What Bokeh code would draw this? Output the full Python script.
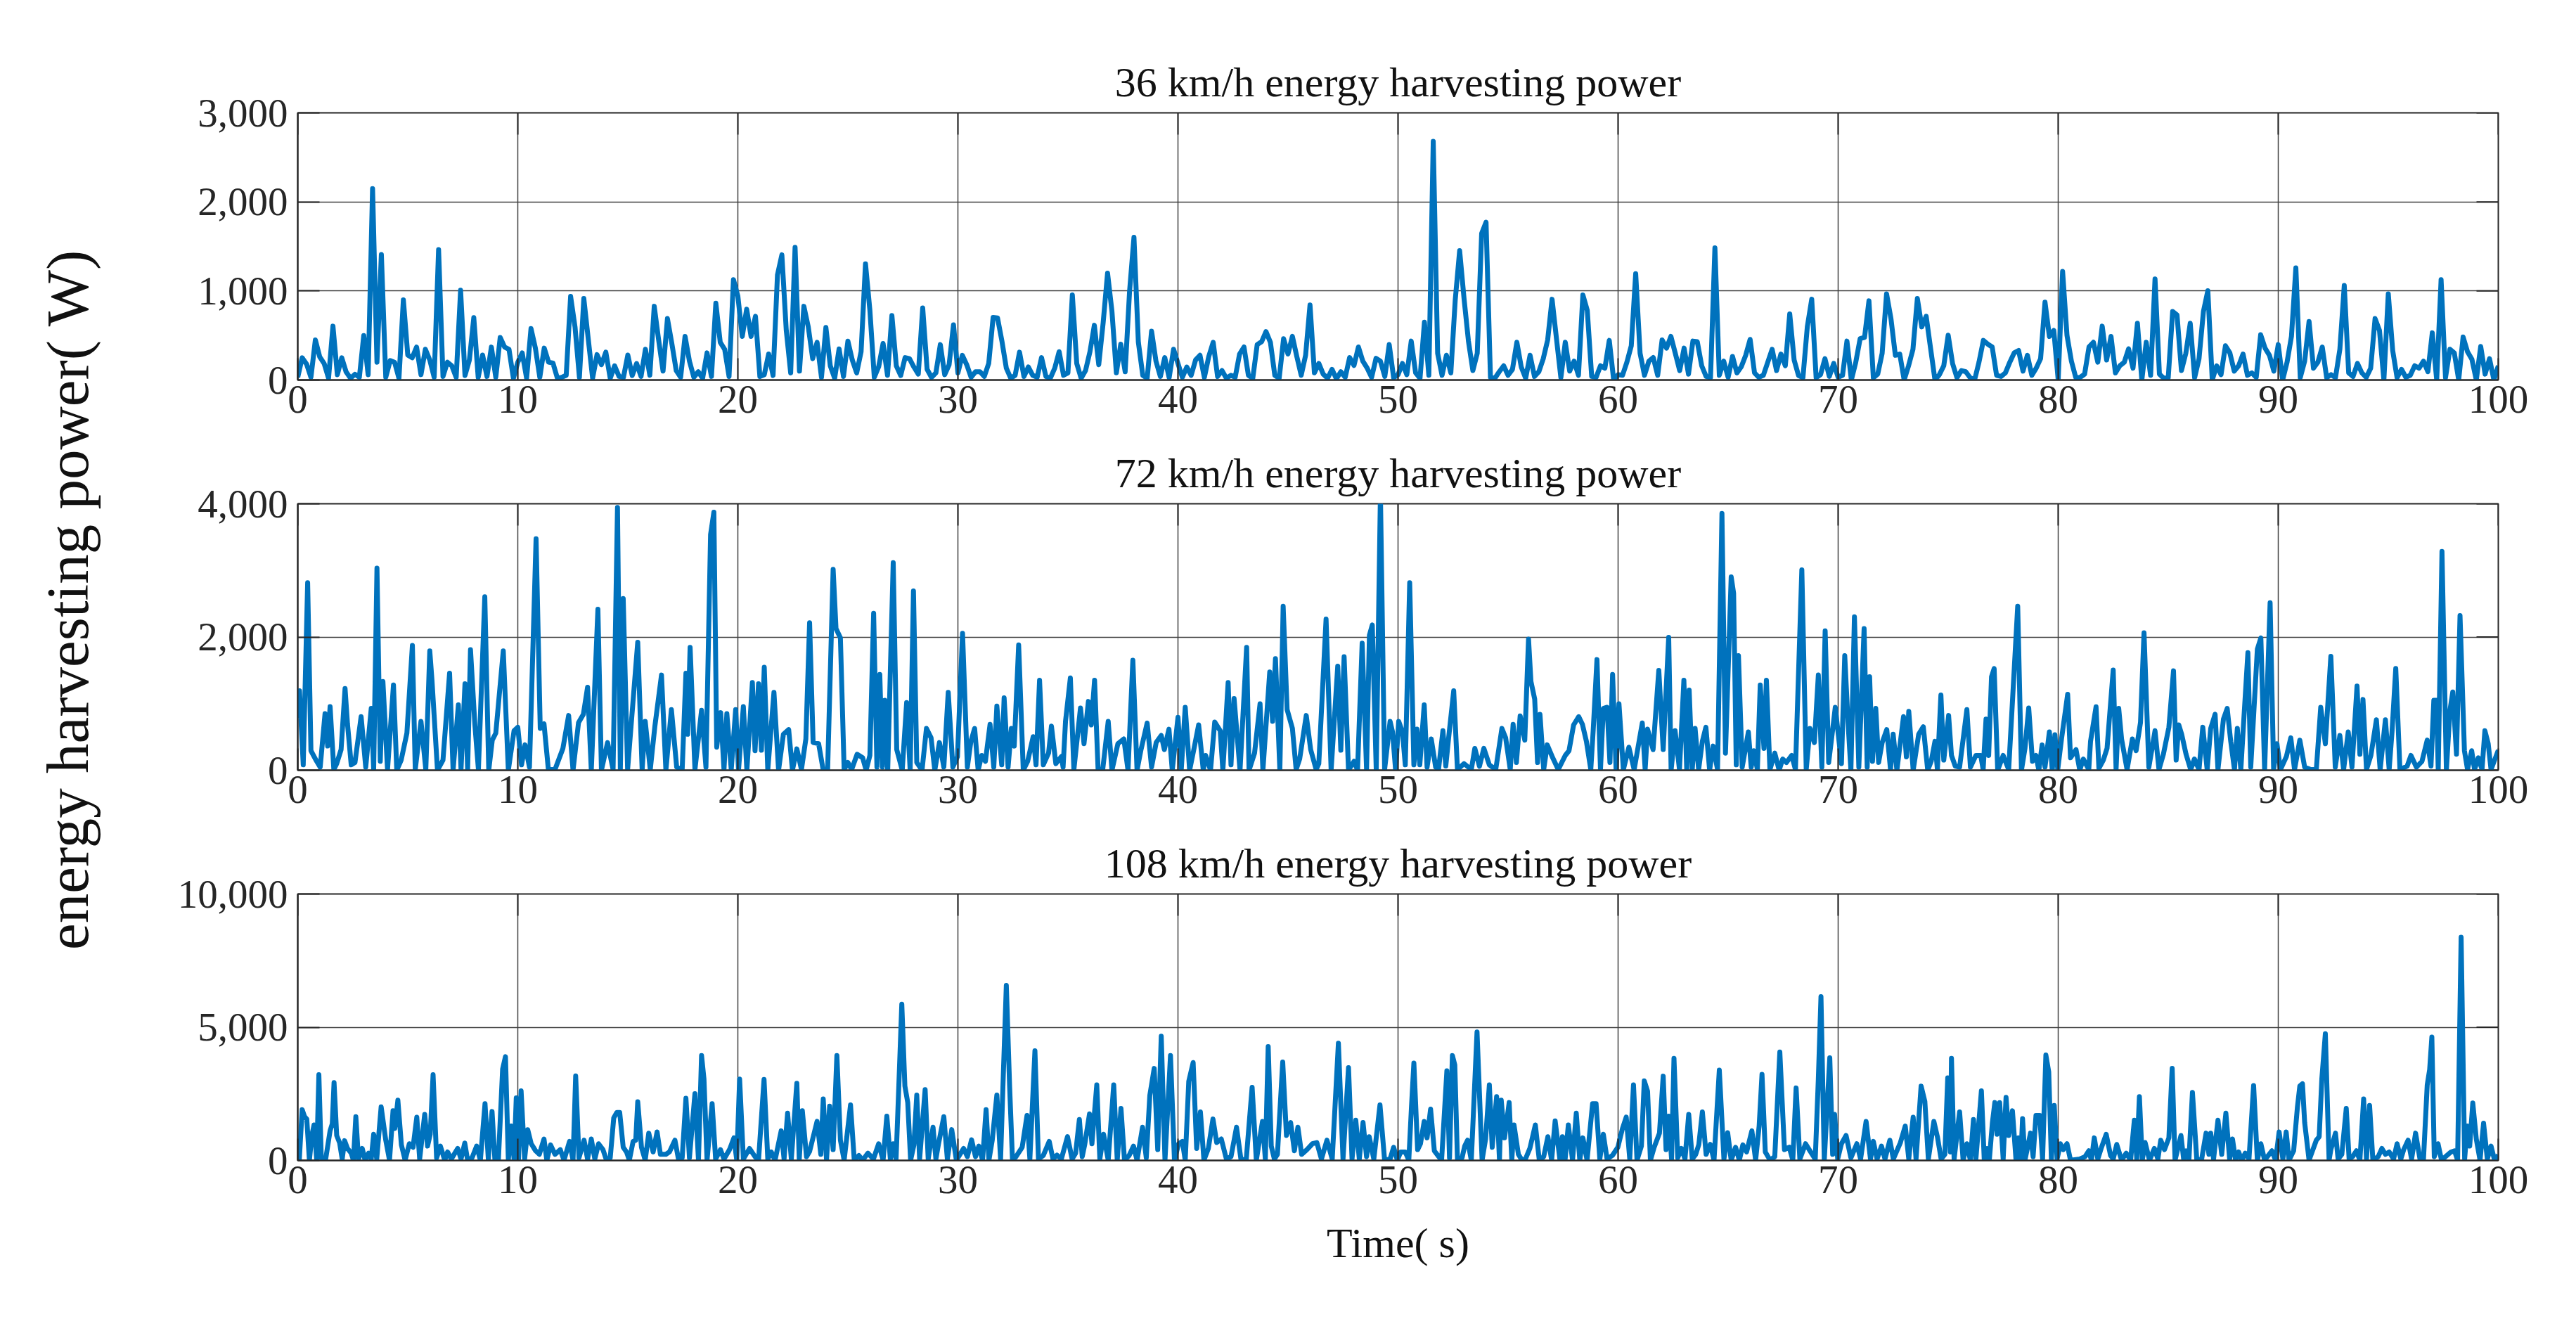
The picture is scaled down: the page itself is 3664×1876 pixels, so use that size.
import numpy as np
from bokeh.plotting import figure
from bokeh.layouts import row, column
from bokeh.models import Range1d, FixedTicker, NumeralTickFormatter, Label
from bokeh.embed import file_html
from bokeh.resources import INLINE

FONT = "Liberation Serif"
BLUE = "#0072BD"
AX = "#262626"

# ---------------- data ----------------
# 36 km/h : values every 0.2 s, 0 .. 100 s (W)
power_36 = [
    30, 250, 180, 30, 450,  260, 185, 20, 605, 60,  250, 90, 20, 65, 30,
    500, 60, 2150, 200, 1410,  30, 218, 200, 20, 900,  280, 250, 370, 60, 345,
    225, 30, 1465, 40, 200,  160, 30, 1008, 50, 225,  700, 30, 280, 40, 370,
    30, 478, 370, 345, 20,  200, 305, 20, 578, 358,  30, 358, 200, 190, 20,
    30, 53, 940, 597, 30,  915, 465, 20, 285, 172,  313, 20, 160, 40, 30,
    280, 50, 185, 40, 345,  53, 828, 450, 100, 690,  410, 106, 30, 490, 212,
    30, 93, 20, 305, 40,  862, 424, 345, 40, 1127,  942, 490, 795, 490, 716,
    40, 60, 292, 50, 1180,  1406, 557, 80, 1490, 100,  828, 597, 240, 424, 30,
    590, 160, 20, 350, 40,  437, 225, 80, 318, 1305,  782, 30, 150, 411, 53,
    724, 160, 50, 252, 240,  146, 66, 809, 120, 30,  80, 398, 60, 172, 620,
    80, 278, 172, 30, 93,  93, 40, 186, 703, 697,  437, 133, 20, 53, 313,
    40, 146, 53, 30, 252,  40, 20, 133, 318, 53,  80, 955, 186, 20, 106,
    318, 615, 172, 642, 1200,  770, 80, 403, 93, 995,  1602, 424, 53, 20, 549,
    212, 40, 252, 26, 345,  186, 30, 146, 53, 225,  278, 30, 265, 424, 40,
    106, 20, 53, 30, 292,  371, 53, 20, 398, 430,  544, 424, 53, 20, 464,
    292, 490, 265, 53, 278,  843, 80, 186, 66, 20,  120, 13, 93, 30, 252,
    164, 371, 212, 133, 30,  244, 212, 40, 398, 26,  60, 186, 60, 437, 80,
    20, 650, 53, 2680, 300,  53, 278, 80, 900, 1453,  915, 437, 106, 300, 1645,
    1772, 30, 20, 93, 160,  53, 120, 424, 146, 20,  278, 40, 93, 240, 450,
    907, 464, 26, 424, 100,  212, 53, 955, 782, 40,  30, 160, 133, 445, 0,
    60, 53, 200, 385, 1194,  300, 53, 212, 252, 53,  450, 358, 490, 300, 106,
    358, 66, 437, 430, 160,  40, 26, 1485, 53, 212,  30, 265, 80, 150, 278,
    456, 80, 30, 53, 199,  345, 106, 292, 160, 743,  225, 50, 26, 600, 907,
    26, 60, 240, 40, 186,  30, 53, 437, 0, 199,  464, 478, 889, 26, 66,
    300, 968, 690, 278, 292,  0, 160, 345, 915, 597,  716, 358, 0, 60, 160,
    504, 186, 26, 106, 93,  26, 0, 200, 445, 403,  371, 53, 40, 80, 200,
    305, 332, 100, 278, 53,  133, 240, 875, 490, 557,  0, 1220, 500, 212, 26,
    30, 66, 371, 424, 200,  605, 225, 490, 80, 160,  199, 350, 133, 637, 0,
    424, 53, 1135, 66, 20,  26, 770, 730, 106, 300,  637, 26, 240, 770, 1003,
    0, 160, 60, 385, 305,  100, 160, 292, 53, 80,  30, 509, 358, 278, 100,
    398, 0, 200, 490, 1260,  26, 212, 658, 133, 200,  371, 26, 60, 26, 345,
    1061, 80, 40, 186, 80,  30, 133, 690, 557, 0,  968, 332, 26, 120, 30,
    53, 160, 133, 212, 93,  530, 0, 1127, 26, 345,  305, 0, 483, 318, 233,
    0, 377, 66, 240, 0,  160,
]
time_36 = [round(0.2 * i, 1) for i in range(len(power_36))]

# 72 km/h : (time s, power W) readings
pts_72 = [
    (0.0, 787), (0.08, 1192), (0.25, 81), (0.45, 2815), (0.6, 293), (0.86, 134), (1.02, 46), (1.24, 850),
    (1.36, 363), (1.47, 956), (1.64, 10), (1.77, 99), (1.97, 310), (2.15, 1228), (2.26, 698), (2.43, 81),
    (2.6, 116), (2.88, 804), (3.09, 46), (3.34, 928), (3.45, 10), (3.6, 3033), (3.75, 134), (3.87, 1333),
    (4.08, 10), (4.35, 1280), (4.5, 0), (4.7, 152), (4.96, 557), (5.21, 1873), (5.34, 10), (5.6, 734),
    (5.82, 10), (6.0, 1792), (6.1, 1351), (6.35, 0), (6.6, 152), (6.9, 1457), (7.06, 0), (7.3, 981),
    (7.42, 10), (7.6, 1298), (7.72, 10), (7.85, 1810), (8.05, 681), (8.21, 10), (8.5, 2603), (8.68, 0),
    (8.84, 452), (9.0, 557), (9.34, 1792), (9.57, 0), (9.83, 593), (10.0, 645), (10.17, 81), (10.33, 381),
    (10.53, 46), (10.83, 3474), (11.02, 628), (11.19, 698), (11.39, 10), (11.69, 10), (12.05, 328),
    (12.31, 822), (12.51, 0), (12.76, 716), (12.98, 840), (13.17, 1245), (13.34, 0), (13.64, 2416),
    (13.8, 0), (14.08, 416), (14.33, 10), (14.53, 3944), (14.66, 10), (14.79, 2579), (14.99, 10),
    (15.45, 1922), (15.65, 0), (15.79, 734), (16.02, 10), (16.23, 663), (16.53, 1429), (16.73, 0),
    (16.98, 910), (17.22, 46), (17.47, 10), (17.64, 1457), (17.72, 540), (17.83, 1845), (18.05, 10),
    (18.35, 899), (18.55, 46), (18.76, 3538), (18.91, 3873), (19.04, 346), (19.22, 864), (19.37, 10),
    (19.5, 850), (19.7, 10), (19.9, 910), (20.03, 0), (20.25, 956), (20.41, 0), (20.66, 1316),
    (20.78, 293), (20.94, 1298), (21.07, 300), (21.2, 1545), (21.36, 0), (21.64, 1168), (21.85, 0),
    (22.07, 540), (22.31, 610), (22.48, 0), (22.68, 321), (22.89, 10), (23.09, 469), (23.26, 2215),
    (23.42, 416), (23.67, 399), (23.88, 0), (24.08, 10), (24.33, 3016), (24.46, 2127), (24.66, 1986),
    (24.83, 10), (25.0, 116),
    (25.17, 10), (25.42, 240), (25.67, 187), (25.83, 0), (26.0, 222), (26.17, 2356), (26.32, 46),
    (26.45, 1439), (26.57, 46), (26.68, 1051), (26.81, 0), (27.06, 3115), (27.22, 310), (27.47, 0),
    (27.67, 1016), (27.83, 0), (27.98, 2691), (28.13, 116), (28.37, 0), (28.57, 628), (28.78, 487),
    (28.95, 0), (29.16, 416), (29.36, 46), (29.56, 1168), (29.77, 46), (29.98, 205), (30.21, 2056),
    (30.43, 46), (30.59, 434), (30.76, 628), (30.92, 0), (31.08, 222), (31.25, 134), (31.46, 688),
    (31.63, 46), (31.77, 963), (31.99, 81), (32.1, 1086), (32.28, 46), (32.43, 628), (32.56, 363),
    (32.76, 1880), (32.97, 0), (33.17, 134), (33.42, 504), (33.55, 81), (33.71, 1351), (33.88, 81),
    (34.12, 257), (34.25, 663), (34.45, 99), (34.7, 205), (34.78, 46), (34.89, 734), (35.11, 1386),
    (35.27, 10), (35.57, 935), (35.73, 399), (35.93, 1033), (36.06, 681), (36.21, 1351), (36.37, 10),
    (36.58, 10), (36.83, 734), (37.0, 0), (37.27, 399), (37.54, 469), (37.73, 0), (37.95, 1651),
    (38.14, 0), (38.31, 293), (38.6, 709), (38.8, 46), (39.01, 416), (39.24, 522), (39.38, 310),
    (39.59, 617), (39.74, 0), (40.0, 794), (40.15, 10), (40.33, 945), (40.53, 0), (40.72, 310),
    (40.94, 681), (41.15, 0), (41.26, 222), (41.48, 0), (41.67, 723), (41.92, 593), (42.04, 0),
    (42.28, 1316), (42.41, 81), (42.55, 1076), (42.82, 0), (43.12, 1845), (43.23, 0), (43.48, 257),
    (43.73, 998), (43.86, 0), (44.17, 1474), (44.3, 734), (44.43, 1675), (44.63, 0), (44.78, 2462),
    (44.96, 910), (45.2, 628), (45.37, 10), (45.53, 169), (45.83, 822), (46.03, 310), (46.28, 10),
    (46.4, 99), (46.73, 2268), (46.96, 0), (47.26, 1563), (47.4, 300), (47.55, 1704), (47.75, 0),
    (48.0, 134), (48.16, 0), (48.37, 1908), (48.57, 10), (48.7, 2028), (48.83, 2180), (49.01, 0),
    (49.2, 4150), (49.39, 10), (49.64, 734), (49.75, 575), (49.89, 0),
    (50.03, 734), (50.2, 575), (50.33, 81), (50.53, 2815), (50.72, 81), (50.86, 617), (50.99, 81),
    (51.19, 981), (51.32, 46), (51.51, 469), (51.71, 46), (51.84, 10), (52.04, 593), (52.17, 63),
    (52.3, 487), (52.53, 1192), (52.7, 10), (53.0, 99), (53.33, 10), (53.49, 328), (53.7, 60),
    (53.9, 328), (54.15, 81), (54.44, 10), (54.72, 628), (54.89, 487), (55.1, 10), (55.23, 688),
    (55.38, 116), (55.55, 815), (55.76, 452), (55.93, 1968), (56.04, 1333), (56.21, 1069), (56.34, 116),
    (56.45, 840), (56.62, 10), (56.78, 381), (57.03, 187), (57.28, 10), (57.6, 222), (57.77, 293),
    (57.98, 681), (58.21, 804), (58.38, 688), (58.56, 434), (58.76, 10), (58.87, 603), (59.04, 1661),
    (59.2, 10), (59.33, 928), (59.5, 945), (59.63, 116), (59.75, 1439), (59.91, 10), (60.04, 998),
    (60.24, 10), (60.49, 346), (60.73, 10), (61.1, 709), (61.23, 10), (61.34, 617), (61.59, 310),
    (61.85, 1499), (62.05, 310), (62.3, 1996), (62.41, 0), (62.59, 593), (62.79, 10), (62.99, 1351),
    (63.12, 0), (63.23, 1203), (63.37, 10), (63.5, 628), (63.66, 10), (63.83, 434), (63.99, 645),
    (64.16, 0), (64.32, 363), (64.52, 10), (64.72, 3855), (64.88, 257), (65.14, 2903), (65.25, 2656),
    (65.37, 81), (65.47, 1721), (65.64, 46), (65.92, 575), (66.05, 46), (66.17, 293), (66.33, 10),
    (66.46, 1280), (66.63, 328), (66.74, 1351), (66.9, 10), (67.12, 257), (67.32, 0), (67.48, 169),
    (67.65, 116), (67.89, 222), (68.06, 10), (68.35, 3009), (68.55, 10), (68.72, 628), (68.92, 416),
    (69.1, 1429), (69.26, 46), (69.41, 2092), (69.57, 116), (69.7, 469), (69.87, 945), (70.03, 469),
    (70.15, 99), (70.3, 1721), (70.45, 716), (70.58, 0), (70.74, 2303), (70.94, 46), (71.18, 2127),
    (71.32, 46), (71.43, 1404), (71.56, 134), (71.71, 928), (71.84, 116), (72.0, 416), (72.21, 610),
    (72.38, 10), (72.5, 540), (72.67, 0), (72.97, 804), (73.1, 200), (73.21, 885), (73.41, 0),
    (73.66, 540), (73.87, 653), (74.07, 0), (74.23, 134), (74.4, 434), (74.51, 10), (74.67, 1129),
    (74.8, 152),
    (75.02, 822), (75.15, 222), (75.32, 63), (75.52, 46), (75.85, 910), (76.01, 46), (76.26, 222),
    (76.48, 222), (76.59, 10), (76.72, 769), (76.84, 222), (76.97, 1404), (77.09, 1527), (77.25, 0),
    (77.5, 222), (77.75, 10), (78.16, 2462), (78.33, 0), (78.49, 328), (78.66, 935), (78.83, 134),
    (78.99, 222), (79.12, 0), (79.27, 381), (79.4, 46), (79.6, 575), (79.73, 0), (79.85, 533),
    (79.98, 10), (80.15, 469), (80.43, 1139), (80.56, 187), (80.81, 310), (80.98, 0), (81.14, 169),
    (81.39, 10), (81.47, 434), (81.72, 952), (81.85, 28), (82.05, 152), (82.22, 328), (82.5, 1503),
    (82.63, 10), (82.75, 928), (82.88, 469), (83.13, 10), (83.37, 469), (83.54, 293), (83.74, 716),
    (83.9, 2063), (84.12, 46), (84.4, 593), (84.58, 10), (84.78, 240), (85.03, 645), (85.24, 1492),
    (85.36, 152), (85.48, 681), (85.61, 540), (85.81, 240), (86.02, 10), (86.19, 169), (86.4, 10),
    (86.57, 645), (86.77, 10), (86.93, 628), (87.13, 840), (87.26, 10), (87.51, 769), (87.68, 928),
    (87.84, 434), (88.01, 10), (88.14, 628), (88.3, 10), (88.42, 681), (88.62, 1764), (88.75, 46),
    (89.05, 1817), (89.21, 1986), (89.38, 10), (89.63, 2515), (89.79, 10), (89.94, 399), (90.1, 10),
    (90.37, 205), (90.57, 487), (90.74, 10), (90.98, 452), (91.2, 46), (91.48, 10), (91.73, 10),
    (91.93, 945), (92.14, 399), (92.39, 1711), (92.59, 46), (92.8, 522), (92.97, 10), (93.18, 575),
    (93.35, 46), (93.58, 1263), (93.71, 240), (93.85, 1062), (94.01, 10), (94.21, 222), (94.46, 758),
    (94.63, 10), (94.87, 758), (95.04, 10), (95.17, 575), (95.34, 1527), (95.53, 10), (95.86, 63),
    (96.03, 222), (96.28, 46), (96.53, 134), (96.77, 452), (96.94, 63), (97.07, 1051), (97.19, 1051),
    (97.27, 10), (97.44, 3284), (97.64, 0), (97.8, 892), (97.93, 1175), (98.1, 240), (98.26, 2321),
    (98.46, 293), (98.6, 10), (98.79, 293), (98.92, 10), (99.09, 187), (99.26, 10), (99.39, 593),
    (99.54, 399), (99.67, 10), (99.83, 152), (100.0, 300),
]
time_72 = [a for a, _ in pts_72]
power_72 = [b for _, b in pts_72]

# 108 km/h : (time s, power W) readings
pts_108 = [
    (0.0, 141), (0.07, 9), (0.2, 1908), (0.31, 1643), (0.41, 1555), (0.53, 9), (0.64, 936), (0.74, 1334),
    (0.86, 53), (0.96, 3216), (1.07, 97), (1.27, 53), (1.47, 1113), (1.57, 1378), (1.65, 2924), (1.77, 936),
    (1.9, 671), (2.02, 53), (2.13, 742), (2.26, 450), (2.43, 274), (2.53, 9), (2.64, 1643), (2.76, 53),
    (2.93, 450), (3.06, 9), (3.22, 274), (3.34, 53), (3.45, 981), (3.59, 53), (3.79, 2014), (4.0, 760),
    (4.17, 9), (4.33, 1864), (4.41, 1201), (4.55, 2261), (4.71, 583), (4.88, 9), (5.07, 627), (5.24, 495),
    (5.41, 1625), (5.54, 53), (5.77, 1731), (5.9, 539), (6.02, 981), (6.15, 3216), (6.31, 97), (6.48, 539),
    (6.68, 9), (6.81, 318), (6.98, 53), (7.14, 274), (7.27, 450), (7.42, 53), (7.59, 654), (7.72, 9),
    (7.92, 97), (8.13, 539), (8.3, 9), (8.51, 2129), (8.66, 53), (8.83, 1837), (8.96, 9), (9.12, 53),
    (9.31, 3428), (9.44, 3896), (9.57, 9), (9.7, 1290), (9.83, 53), (9.93, 2350), (10.03, 9), (10.15, 2615),
    (10.31, 53), (10.45, 1157), (10.61, 627), (10.81, 362), (10.98, 230), (11.19, 804), (11.32, 9),
    (11.49, 583), (11.69, 230), (11.93, 406), (12.1, 9), (12.35, 716), (12.51, 9), (12.63, 3171),
    (12.78, 97), (13.01, 760), (13.17, 53), (13.34, 804), (13.5, 53), (13.67, 627), (13.87, 406),
    (14.03, 9), (14.2, 97), (14.36, 1599), (14.5, 1802), (14.63, 1802), (14.79, 495), (14.94, 318),
    (15.07, 9), (15.24, 716), (15.36, 760), (15.45, 2200), (15.62, 495), (15.79, 9), (15.95, 1025),
    (16.15, 318), (16.33, 1069), (16.48, 230), (16.73, 230), (16.89, 318), (17.14, 760), (17.31, 9),
    (17.47, 97), (17.64, 2332), (17.8, 97), (18.05, 2509), (18.21, 9), (18.35, 3940), (18.46, 3057),
    (18.6, 9), (18.83, 2129), (18.99, 53), (19.21, 406), (19.37, 53), (19.62, 406), (19.82, 848),
    (19.95, 9), (20.08, 3057), (20.25, 53), (20.53, 450), (20.78, 141), (20.94, 9), (21.19, 3039),
    (21.36, 53), (21.52, 318), (21.69, 9), (21.97, 1113), (22.1, 53), (22.26, 1776), (22.43, 53),
    (22.68, 2897), (22.79, 53), (22.93, 1864), (23.12, 141), (23.26, 336), (23.6, 1466), (23.77, 230),
    (23.88, 2306), (24.03, 9), (24.17, 2041), (24.33, 406), (24.5, 3940), (24.66, 760), (24.83, 9),
    (25.12, 2085), (25.29, 9), (25.5, 186), (25.67, 9), (25.91, 274), (26.16, 53), (26.4, 627), (26.6, 9),
    (26.77, 1661), (26.93, 53), (27.06, 627), (27.19, 53), (27.31, 2703), (27.45, 5866), (27.59, 2792),
    (27.72, 2173), (27.85, 9), (28.0, 583), (28.13, 2456), (28.26, 53), (28.51, 2659), (28.65, 53),
    (28.87, 1246), (29.0, 53), (29.11, 583), (29.36, 1643), (29.52, 53), (29.72, 1157), (29.93, 9),
    (30.26, 450), (30.43, 141), (30.62, 777), (30.8, 141), (30.95, 539), (31.12, 9), (31.28, 1908),
    (31.41, 9), (31.56, 760), (31.77, 2456), (31.94, 53), (32.05, 2880), (32.2, 6572), (32.35, 2774),
    (32.48, 9), (32.64, 141), (32.92, 495), (33.14, 1687), (33.27, 53), (33.5, 4117), (33.66, 53),
    (33.88, 186), (34.15, 716), (34.32, 53), (34.5, 200), (34.7, 53), (34.98, 892), (35.19, 53),
    (35.35, 274), (35.52, 1537), (35.65, 141), (35.76, 583), (35.98, 1749), (36.09, 627), (36.31, 2836),
    (36.45, 53), (36.62, 981), (36.83, 9), (37.08, 2836), (37.24, 9), (37.41, 1952), (37.57, 9),
    (37.78, 186), (37.98, 539), (38.14, 9), (38.39, 1246), (38.56, 97), (38.72, 2438), (38.92, 3454),
    (39.08, 406), (39.24, 4664), (39.41, 9), (39.66, 3940), (39.84, 9), (40.03, 627), (40.2, 716),
    (40.33, 9), (40.49, 2968), (40.69, 3675), (40.85, 450), (41.02, 1820), (41.18, 9), (41.38, 450),
    (41.59, 1555), (41.76, 671), (41.97, 804), (42.2, 53), (42.41, 141), (42.66, 1246), (42.86, 53),
    (43.1, 9), (43.37, 2747), (43.56, 9), (43.84, 1466), (43.97, 53), (44.1, 4276), (44.24, 539),
    (44.38, 53), (44.52, 230), (44.76, 3693), (44.93, 936), (45.12, 1422), (45.29, 362), (45.45, 1246),
    (45.62, 230), (45.86, 406), (46.11, 627), (46.31, 671), (46.52, 53), (46.77, 760), (47.01, 53),
    (47.29, 4400), (47.5, 53), (47.75, 3481), (47.91, 53), (48.08, 1511), (48.24, 53), (48.41, 1422),
    (48.57, 141), (48.69, 892), (48.9, 53), (49.18, 2085), (49.39, 9), (49.64, 53), (49.8, 495),
    (49.97, 9),
    (50.12, 318), (50.33, 318), (50.49, 9), (50.61, 1996), (50.72, 3657), (50.89, 406), (51.02, 627),
    (51.19, 1466), (51.32, 848), (51.48, 1926), (51.65, 362), (51.81, 186), (51.98, 9), (52.22, 3366),
    (52.34, 97), (52.47, 3940), (52.58, 3587), (52.7, 53), (52.91, 97), (53.03, 539), (53.16, 760),
    (53.33, 9), (53.59, 4823), (53.82, 9), (53.98, 804), (54.15, 2836), (54.28, 495), (54.48, 2394),
    (54.61, 9), (54.69, 2261), (54.84, 848), (55.05, 2173), (55.17, 9), (55.27, 1334), (55.47, 230),
    (55.63, 9), (55.79, 53), (55.99, 450), (56.24, 1334), (56.42, 9), (56.62, 141), (56.81, 892),
    (56.98, 9), (57.14, 1484), (57.36, 9), (57.47, 892), (57.59, 9), (57.74, 1334), (57.93, 9),
    (58.1, 1776), (58.26, 9), (58.4, 848), (58.59, 9), (58.84, 2129), (59.0, 2129), (59.17, 53),
    (59.33, 981), (59.5, 53), (59.74, 186), (59.99, 495), (60.2, 1201), (60.37, 1625), (60.53, 53),
    (60.7, 2836), (60.86, 9), (61.06, 539), (61.19, 2986), (61.34, 2597), (61.47, 9), (61.64, 495),
    (61.88, 1025), (62.05, 3163), (62.18, 406), (62.3, 1661), (62.43, 53), (62.54, 3834), (62.71, 97),
    (62.88, 450), (63.04, 53), (63.21, 1731), (63.37, 53), (63.53, 230), (63.67, 601), (63.83, 1820),
    (64.0, 230), (64.19, 601), (64.36, 9), (64.6, 3392), (64.81, 53), (64.98, 1042), (65.14, 9),
    (65.34, 495), (65.51, 9), (65.67, 583), (65.84, 318), (66.08, 1113), (66.25, 9), (66.41, 1290),
    (66.54, 3233), (66.69, 318), (66.91, 9), (67.12, 141), (67.35, 4072), (67.56, 406), (67.78, 495),
    (67.94, 9), (68.09, 2721), (68.26, 53), (68.52, 627), (68.72, 362), (68.96, 53), (69.1, 3057),
    (69.22, 6148), (69.37, 9), (69.62, 3852), (69.75, 230), (69.84, 1731), (69.98, 53), (70.15, 627),
    (70.36, 936), (70.58, 97), (70.85, 627), (71.02, 53), (71.27, 1466), (71.47, 53), (71.6, 716),
    (71.77, 53), (71.97, 539), (72.13, 53), (72.35, 760), (72.51, 53), (72.83, 671), (73.05, 1290),
    (73.21, 53), (73.41, 1625), (73.54, 53), (73.77, 2792), (73.94, 2217), (74.1, 53), (74.35, 1466),
    (74.51, 892), (74.68, 53), (74.85, 230), (74.98, 3101), (75.1, 318),
    (75.15, 3834), (75.27, 53), (75.52, 1820), (75.68, 9), (75.85, 627), (76.01, 9), (76.15, 1537),
    (76.26, 53), (76.51, 2615), (76.64, 9), (76.76, 450), (76.87, 9), (77.01, 1422), (77.12, 2173),
    (77.22, 981), (77.34, 2173), (77.5, 53), (77.63, 2367), (77.75, 936), (77.92, 1864), (78.08, 53),
    (78.2, 848), (78.3, 9), (78.38, 1572), (78.49, 9), (78.74, 1025), (78.86, 141), (78.99, 1687),
    (79.16, 1687), (79.29, 53), (79.44, 3958), (79.57, 3322), (79.69, 53), (79.82, 2067), (79.95, 53),
    (80.1, 627), (80.23, 406), (80.4, 627), (80.56, 9), (80.98, 53), (81.22, 141), (81.39, 362),
    (81.51, 9), (81.64, 848), (81.8, 53), (81.97, 495), (82.18, 981), (82.38, 186), (82.5, 53),
    (82.66, 601), (82.88, 9), (83.09, 274), (83.29, 9), (83.46, 1511), (83.57, 53), (83.69, 2394),
    (83.82, 9), (83.95, 671), (84.15, 9), (84.37, 450), (84.53, 53), (84.66, 760), (84.83, 406),
    (85.03, 848), (85.18, 3454), (85.31, 9), (85.58, 936), (85.7, 53), (85.81, 362), (85.94, 9),
    (86.1, 2553), (86.3, 9), (86.52, 53), (86.72, 1025), (86.85, 230), (86.93, 1025), (87.06, 53),
    (87.26, 1511), (87.43, 230), (87.62, 1776), (87.79, 53), (87.92, 804), (88.06, 9), (88.2, 318),
    (88.34, 9), (88.5, 274), (88.67, 53), (88.88, 2809), (89.05, 9), (89.21, 627), (89.38, 9),
    (89.71, 362), (89.88, 9), (90.04, 1069), (90.21, 53), (90.36, 1069), (90.49, 9), (90.7, 362),
    (90.87, 1996), (90.98, 2792), (91.1, 2880), (91.2, 1422), (91.4, 9), (91.73, 760), (91.86, 892),
    (91.98, 3057), (92.14, 4753), (92.31, 9), (92.39, 406), (92.6, 1025), (92.72, 53), (92.89, 230),
    (93.09, 1952), (93.22, 53), (93.38, 141), (93.55, 362), (93.71, 9), (93.88, 2306), (94.01, 53),
    (94.15, 2067), (94.3, 9), (94.54, 141), (94.71, 450), (94.87, 230), (95.04, 318), (95.24, 53),
    (95.4, 627), (95.57, 53), (95.7, 406), (95.9, 760), (96.06, 53), (96.24, 1025), (96.44, 53),
    (96.6, 53), (96.77, 2836), (96.88, 3410), (96.98, 4629), (97.09, 141), (97.26, 627), (97.42, 9),
    (97.6, 141), (97.85, 318), (98.01, 362), (98.15, 9), (98.31, 8375), (98.47, 53), (98.59, 1290),
    (98.7, 539), (98.84, 2155), (99.0, 804), (99.17, 9), (99.33, 1396), (99.5, 53), (99.67, 539),
    (99.83, 9), (100.0, 200),
]
time_108 = [a for a, _ in pts_108]
power_108 = [b for _, b in pts_108]

x_ticks = [0, 10, 20, 30, 40, 50, 60, 70, 80, 90, 100]
y_ticks_36 = [0, 1000, 2000, 3000]
y_ticks_72 = [0, 2000, 4000]
y_ticks_108 = [0, 5000, 10000]
titles = ["36 km/h energy harvesting power", "72 km/h energy harvesting power",
          "108 km/h energy harvesting power"]

# ---------------- layout ----------------
LAB_W = 200
FIG_W = 3448
BORDER_L = 223
BORDER_R = 95
FRAME_W = FIG_W - BORDER_L - BORDER_R
FRAME_H = 380
TICK_LEN = 31
TICK_FS = "57px"


def style_axis(ax):
    ax.axis_line_color = AX
    ax.axis_line_width = 2
    ax.major_tick_line_color = AX
    ax.major_tick_line_width = 2
    ax.major_tick_in = TICK_LEN
    ax.major_tick_out = 0
    ax.minor_tick_line_color = None
    ax.major_label_text_font = FONT
    ax.major_label_text_font_size = TICK_FS
    ax.major_label_text_color = AX


def panel(t, p, ymax, yticks, title, top, bottom, xlabel=None):
    f = figure(width=FIG_W, height=top + FRAME_H + bottom,
               x_range=Range1d(0, 100), y_range=Range1d(0, ymax),
               output_backend="svg", toolbar_location=None,
               min_border_left=BORDER_L, min_border_right=BORDER_R,
               min_border_top=top, min_border_bottom=bottom, title=title)
    f.title.text_font = FONT
    f.title.text_font_size = "60px"
    f.title.text_font_style = "normal"
    f.title.text_color = "#111111"
    f.title.align = "center"
    f.title.standoff = 21
    f.background_fill_color = "white"
    f.border_fill_color = "white"
    f.outline_line_color = AX
    f.outline_line_width = 2

    xax = f.xaxis[0]
    yax = f.yaxis[0]
    xax.ticker = FixedTicker(ticks=x_ticks)
    yax.ticker = FixedTicker(ticks=yticks)
    yax.formatter = NumeralTickFormatter(format="0,0")
    style_axis(xax)
    style_axis(yax)
    xax.major_label_standoff = 8
    yax.major_label_standoff = 14

    f.xgrid.ticker = FixedTicker(ticks=x_ticks)
    f.ygrid.ticker = FixedTicker(ticks=yticks)
    f.grid.grid_line_color = "#404040"
    f.grid.grid_line_width = 1.5

    # inward tick marks on the top and right edges of the box
    dy = ymax * TICK_LEN / FRAME_H
    dx = 100.0 * TICK_LEN / FRAME_W
    f.segment(x0=x_ticks, y0=[ymax] * len(x_ticks), x1=x_ticks, y1=[ymax - dy] * len(x_ticks),
              line_color=AX, line_width=2)
    f.segment(x0=[100] * len(yticks), y0=yticks, x1=[100 - dx] * len(yticks), y1=yticks,
              line_color=AX, line_width=2)

    if xlabel:
        xax.axis_label = xlabel
        xax.axis_label_text_font = FONT
        xax.axis_label_text_font_size = "60px"
        xax.axis_label_text_font_style = "normal"
        xax.axis_label_text_color = "#111111"
        xax.axis_label_standoff = 35

    f.line(t, p, line_width=7, line_color=BLUE, line_join="round")
    return f


p1 = panel(time_36, power_36, 3000, y_ticks_36, titles[0], 160, 87)
p2 = panel(time_72, power_72, 4000, y_ticks_72, titles[1], 88, 87)
p3 = panel(time_108, power_108, 10000, y_ticks_108, titles[2], 88, 200, xlabel="Time( s)")

H_TOTAL = (160 + FRAME_H + 87) + (88 + FRAME_H + 87) + (88 + FRAME_H + 200)

lab = figure(width=LAB_W, height=H_TOTAL, x_range=Range1d(0, LAB_W), y_range=Range1d(0, H_TOTAL),
             output_backend="svg", toolbar_location=None, min_border=0,
             x_axis_location=None, y_axis_location=None)
lab.grid.visible = False
lab.outline_line_color = None
lab.add_layout(Label(x=95, y=H_TOTAL - 852, text="energy harvesting power( W)",
                     angle=np.pi / 2, text_align="center", text_baseline="middle",
                     text_font=FONT, text_font_size="85px", text_color="#111111"))

layout = row(lab, column(p1, p2, p3))
open("out.html", "w").write(file_html(layout, INLINE))
